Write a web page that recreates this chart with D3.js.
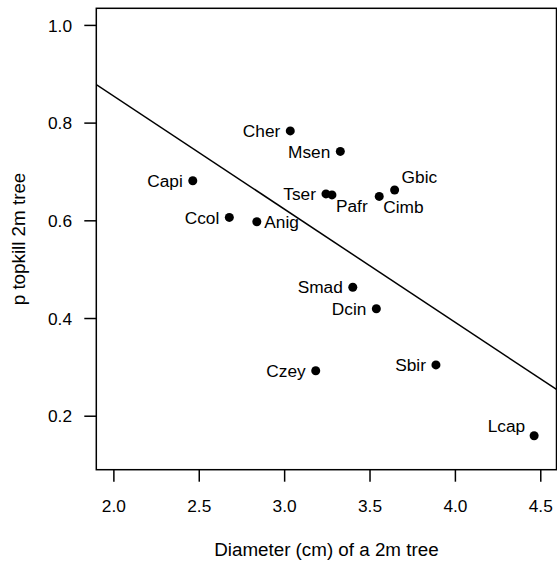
<!DOCTYPE html>
<html>
<head>
<meta charset="utf-8">
<script src="https://cdn.jsdelivr.net/npm/d3@7"></script>
<style>
  body { margin: 0; background: #fff; }
  svg { display: block; font-family: "Liberation Sans", Arial, Helvetica, sans-serif; }
</style>
</head>
<body>
<script>
// species codes and their values
var species  = ["Cher", "Msen", "Capi", "Tser", "Pafr", "Cimb", "Gbic", "Ccol", "Anig", "Smad", "Dcin", "Czey", "Sbir", "Lcap"];
var diameter = [3.036, 3.329, 2.465, 3.245, 3.280, 3.557, 3.647, 2.679, 2.840, 3.402, 3.540, 3.185, 3.889, 4.464];
var pTopkill = [0.783, 0.741, 0.681, 0.654, 0.652, 0.649, 0.662, 0.606, 0.597, 0.463, 0.419, 0.292, 0.304, 0.159];
var labelPos = ["left", "left", "left", "left", "belowRight", "belowRight", "aboveRight", "left", "right", "left", "left", "left", "left", "aboveLeft"];

var xTicks = [2.0, 2.5, 3.0, 3.5, 4.0, 4.5];
var yTicks = [0.2, 0.4, 0.6, 0.8, 1.0];

var fitLine = { intercept: 1.318, slope: -0.2316 }; // fitted line across the plot

var W = 557, H = 565;
var box = { left: 96.3, right: 556.5, top: 8.3, bottom: 469.7 };

var svg = d3.select("body").append("svg")
  .attr("width", W)
  .attr("height", H);

var x = d3.scaleLinear().domain([1.9, 4.595]).range([box.left, box.right]);
var y = d3.scaleLinear().domain([0.0895, 1.034]).range([box.bottom, box.top]);

// the box
svg.append("rect")
  .attr("x", box.left)
  .attr("y", box.top)
  .attr("width", box.right - box.left)
  .attr("height", box.bottom - box.top)
  .attr("fill", "none")
  .attr("stroke", "#000")
  .attr("stroke-width", 1.5);

// axes, R style: ticks outward, no extra domain line
var xAxis = svg.append("g")
  .attr("transform", "translate(0," + box.bottom + ")")
  .call(d3.axisBottom(x).tickValues(xTicks).tickFormat(d3.format(".1f")).tickSize(12).tickSizeOuter(0));
xAxis.select(".domain").remove();
xAxis.selectAll("line").attr("stroke-width", 1.5);
xAxis.selectAll("text")
  .attr("y", 42).attr("dy", null)
  .attr("font-size", 17.3).attr("font-family", null).attr("fill", "#000");

var yAxis = svg.append("g")
  .attr("transform", "translate(" + box.left + ",0)")
  .call(d3.axisLeft(y).tickValues(yTicks).tickFormat(d3.format(".1f")).tickSize(12).tickSizeOuter(0));
yAxis.select(".domain").remove();
yAxis.selectAll("line").attr("stroke-width", 1.5);
yAxis.selectAll("text")
  .attr("x", -24.3).attr("dy", "0.36em")
  .attr("font-size", 17.3).attr("font-family", null).attr("fill", "#000");

// axis titles
svg.append("text")
  .attr("x", (box.left + box.right) / 2)
  .attr("y", 556)
  .attr("text-anchor", "middle")
  .attr("font-size", 18.8)
  .text("Diameter (cm) of a 2m tree");

svg.append("text")
  .attr("transform", "translate(25," + (box.top + box.bottom) / 2 + ") rotate(-90)")
  .attr("text-anchor", "middle")
  .attr("font-size", 18.8)
  .text("p topkill 2m tree");

// fitted line, clipped to the box
svg.append("clipPath").attr("id", "plotclip")
  .append("rect")
  .attr("x", box.left).attr("y", box.top)
  .attr("width", box.right - box.left).attr("height", box.bottom - box.top);

var xd = x.domain();
svg.append("line")
  .attr("clip-path", "url(#plotclip)")
  .attr("x1", x(xd[0])).attr("y1", y(fitLine.intercept + fitLine.slope * xd[0]))
  .attr("x2", x(xd[1])).attr("y2", y(fitLine.intercept + fitLine.slope * xd[1]))
  .attr("stroke", "#000")
  .attr("stroke-width", 1.5);

// points and labels
var pts = species.map(function (s, i) {
  return { name: s, d: diameter[i], p: pTopkill[i], pos: labelPos[i] };
});

// label offsets from the point: [dx, dy of baseline, anchor]
var offsets = {
  left:       [-10, 6.2, "end"],
  right:      [7.5, 6.2, "start"],
  belowRight: [4, 17, "start"],
  aboveRight: [7, -7, "start"],
  aboveLeft:  [-9, -4, "end"]
};

svg.selectAll("circle.pt")
  .data(pts)
  .enter()
  .append("circle")
  .attr("class", "pt")
  .attr("cx", function (d) { return x(d.d); })
  .attr("cy", function (d) { return y(d.p); })
  .attr("r", 4.5)
  .attr("fill", "#000");

svg.selectAll("text.lab")
  .data(pts)
  .enter()
  .append("text")
  .attr("class", "lab")
  .attr("x", function (d) { return x(d.d) + offsets[d.pos][0]; })
  .attr("y", function (d) { return y(d.p) + offsets[d.pos][1]; })
  .attr("text-anchor", function (d) { return offsets[d.pos][2]; })
  .attr("font-size", 17.3)
  .text(function (d) { return d.name; });
</script>
</body>
</html>
